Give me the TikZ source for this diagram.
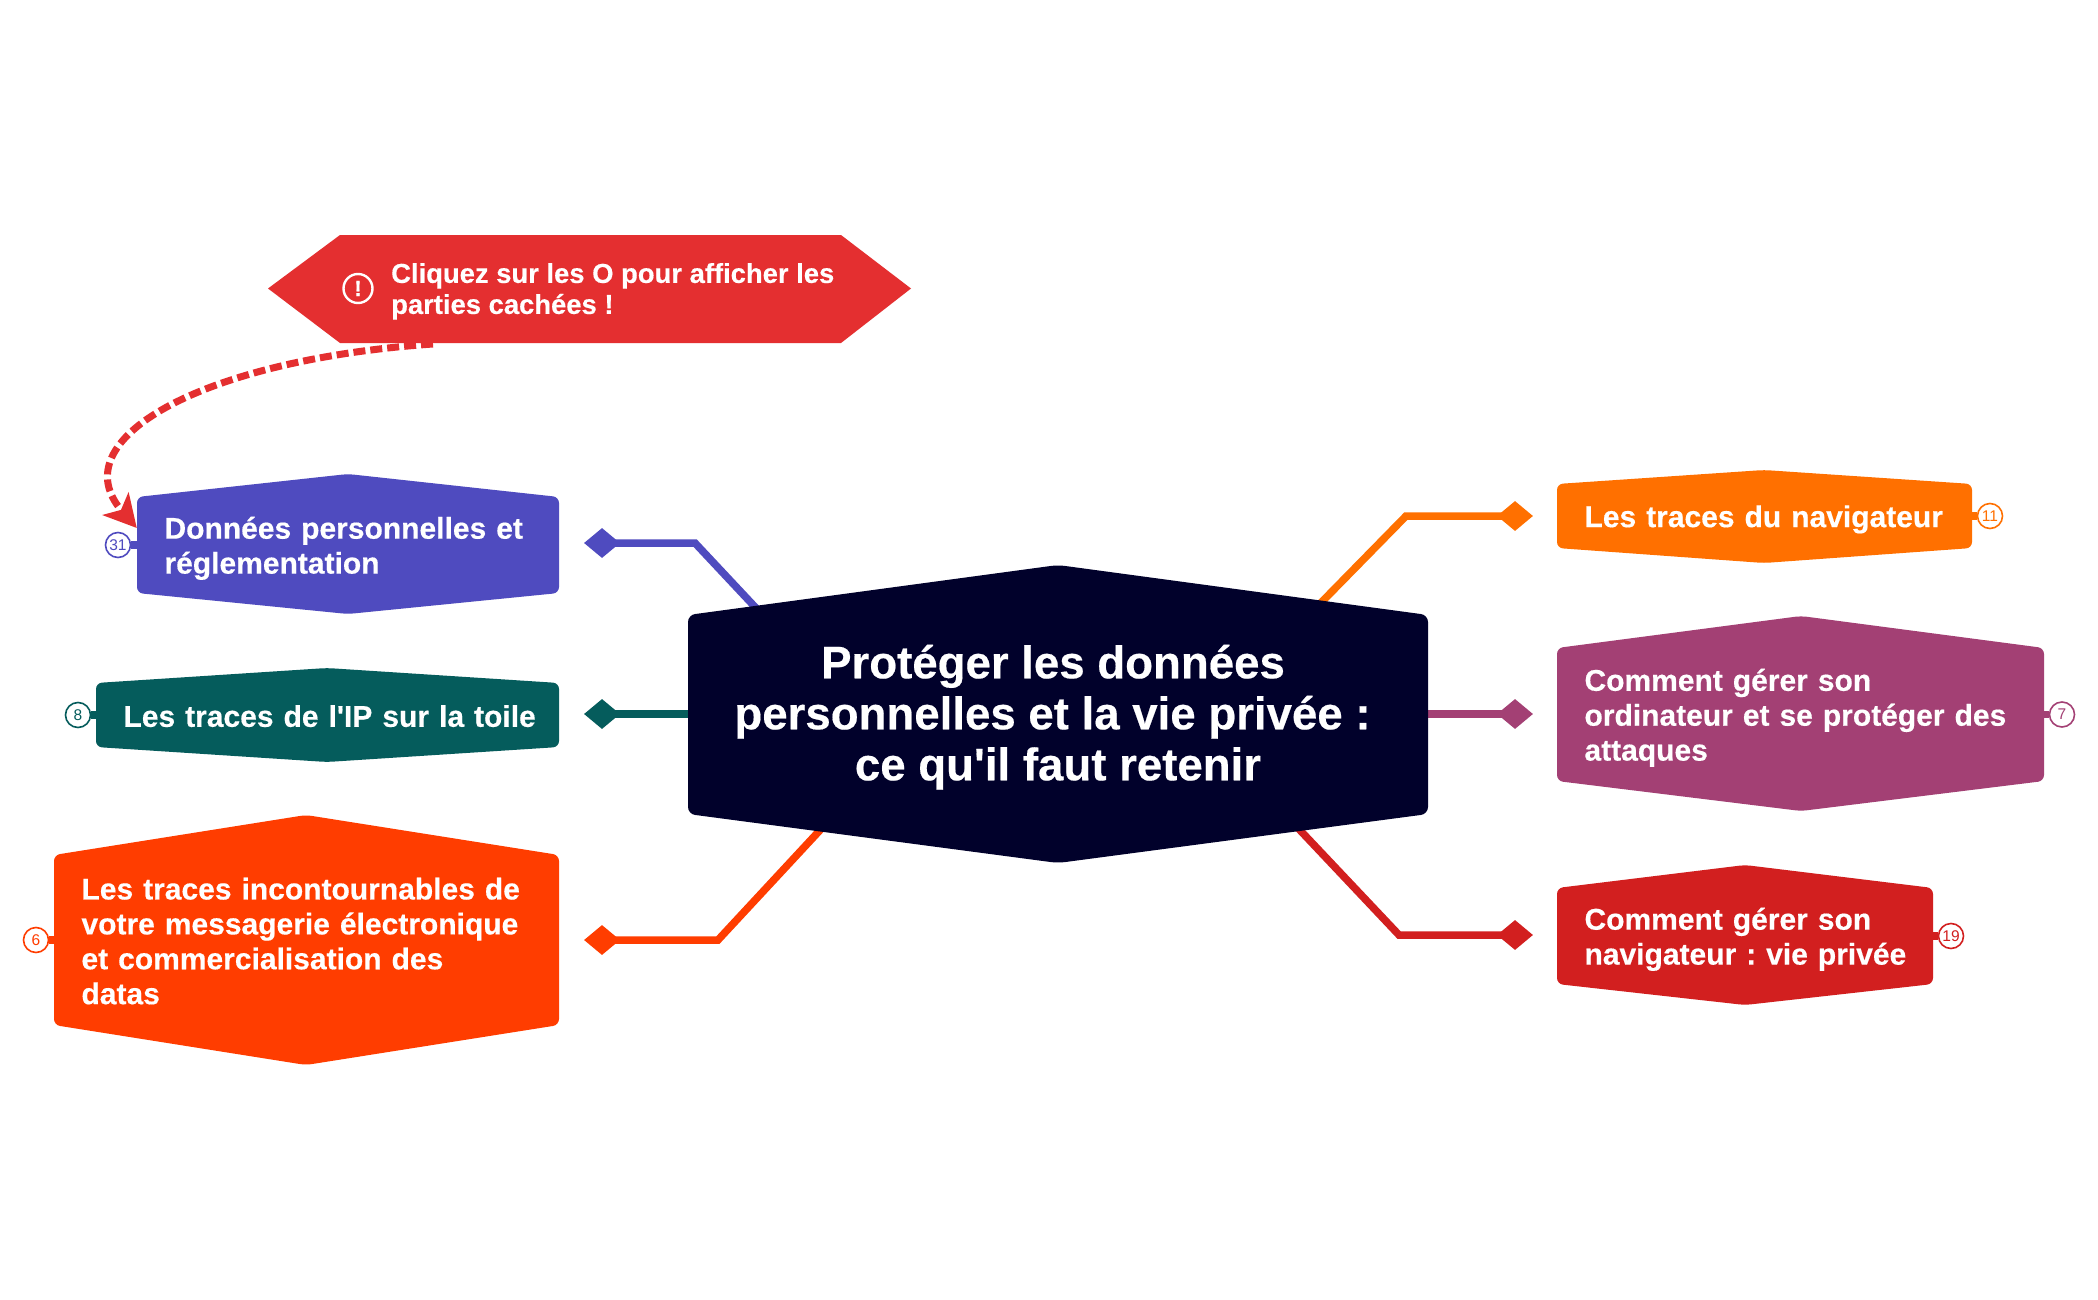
\documentclass[tikz,border=0pt]{standalone}
\usepackage{fontspec}
\setmainfont{Liberation Sans}[Ligatures=TeXOff,BoldFeatures={FakeBold=0.4}]
\usetikzlibrary{shapes.geometric,arrows.meta,calc}
\pgfdeclarelayer{back}
\pgfsetlayers{back,main}
\definecolor{cblue}{HTML}{4F4BBF}
\definecolor{cteal}{HTML}{055C5C}
\definecolor{cflame}{HTML}{FF3D00}
\definecolor{corange}{HTML}{FF7000}
\definecolor{cplum}{HTML}{A34074}
\definecolor{cred}{HTML}{D21F1F}
\definecolor{chub}{HTML}{01012B}
\definecolor{ccall}{HTML}{E42F30}
\newcommand{\upstrut}[1]{\vrule height #1pt depth 0pt width 0pt\relax}
\newcommand{\downstrut}[1]{\vrule height 0pt depth #1pt width 0pt\relax}
\tikzset{
  boxtext/.style={text=white,inner sep=0pt,font=\fontsize{30}{34.9}\selectfont\bfseries\frenchspacing},
  dia/.style={diamond,draw=none,fill=#1,inner sep=0pt,aspect=1.2,minimum width=36pt,minimum height=30pt},
  link/.style={draw=#1,line width=7.5pt,miter limit=10},
  badge/.style={circle,draw=#1,line width=1.6pt,fill=white,text=#1,inner sep=0pt,minimum size=25pt,
     font=\fontsize{15.5}{16}\selectfont},
}
% name, colour, x1, x2, apex x, top, shoulder top, shoulder bottom, bottom
\newcommand{\hexbox}[9]{%
  \fill[#2,rounded corners=6pt] (#3,#7) -- (#5,#6) -- (#4,#7) -- (#4,#8) -- (#5,#9) -- (#3,#8) -- cycle;
  \pgfmathsetmacro\hw{#4-#3}%
  \pgfmathsetmacro\hh{#8-#7}%
  \node[boxtext,minimum height=\hh pt,text width=\hw pt,
        execute at begin node={\leftskip=27.5pt\rightskip=0pt plus 1fill\parindent=0pt}]
     (#1) at ({(#3+#4)/2},{(#7+#8)/2})
}
\begin{document}
\begin{tikzpicture}[x=1pt,y=-1pt]
\useasboundingbox (0,0) rectangle (2098,1300);
\begin{pgfonlayer}{back}
\fill[white] (0,0) rectangle (2098,1300);
\end{pgfonlayer}

% central node
\fill[chub,rounded corners=7pt] (688,615) -- (1058,565) -- (1428,615) -- (1428,814) -- (1058,863) -- (688,814) -- cycle;
\node[text=white,inner sep=0pt,align=center,minimum width=740pt,minimum height=199pt,
      font=\fontsize{45.6}{51}\selectfont\bfseries\frenchspacing] (hub) at (1058,714)
  {\upstrut{40}Protéger les données\rule{10pt}{0pt}\\personnelles et la vie privée :\rule{11pt}{0pt}\\ce qu'il faut retenir\downstrut{8}};

% topics
\hexbox{blue}{cblue}{137}{559}{348}{474}{497}{593}{614}
  {\upstrut{28.6}Données personnelles et\\réglementation\downstrut{5}};
\hexbox{teal}{cteal}{96}{559}{327}{668}{683}{747}{762}
  {\upstrut{28.6}Les traces de l'IP sur la toile\downstrut{5}};
\hexbox{flame}{cflame}{54}{559}{306}{815}{855}{1025}{1065}
  {\upstrut{28.6}Les traces incontournables de\\votre messagerie électronique\\et commercialisation des\\datas\downstrut{5}};
\hexbox{orange}{corange}{1557}{1972}{1764}{470}{484}{548}{563}
  {\upstrut{28.6}Les traces du navigateur\downstrut{5}};
\hexbox{plum}{cplum}{1557}{2044}{1801}{616}{648}{781}{811}
  {\upstrut{28.6}Comment gérer son\\ordinateur et se protéger des\\attaques\downstrut{5}};
\hexbox{red}{cred}{1557}{1933}{1745}{865}{888}{984}{1005}
  {\upstrut{28.6}Comment gérer son\\navigateur : vie privée\downstrut{5}};

% callout
\fill[ccall] (268,288.5) -- (340,235) -- (841,235) -- (911,288.5) -- (841,343) -- (340,343) -- cycle;
\node[boxtext,font=\fontsize{27.4}{31}\selectfont\bfseries\frenchspacing,anchor=west,align=left] (calltext) at (391,288)
  {\upstrut{26.5}Cliquez sur les O pour afficher les\\parties cachées !\downstrut{4.8}};
\node[circle,draw=white,line width=2.4pt,text=white,inner sep=0pt,minimum size=29pt,
      font=\fontsize{22}{22}\selectfont\bfseries] (callicon) at (358,288.5) {!};
\coordinate (callfoot) at (433,344);

% end diamonds
\node[dia=cblue] (dblue) at (602,543) {};
\node[dia=cteal] (dteal) at (602,714) {};
\node[dia=cflame] (dflame) at (602,940) {};
\node[dia=corange] (dorange) at (1515,516) {};
\node[dia=cplum] (dplum) at (1515,714) {};
\node[dia=cred] (dred) at (1515,935) {};

% badges
\node[badge=cblue] (bblue) at (118,545) {31};
\node[badge=cteal] (bteal) at (78,715) {8};
\node[badge=cflame] (bflame) at (36,940) {6};
\node[badge=corange] (borange) at (1990,516) {11};
\node[badge=cplum] (bplum) at (2062,714.5) {7};
\node[badge=cred] (bred) at (1951,936) {19};

% connectors
\coordinate (hubblue) at (770,623);
\coordinate (hubflame) at (835,814);
\coordinate (huborange) at (1306,618);
\coordinate (hubred) at (1280,809);
\begin{pgfonlayer}{back}
\draw[link=cblue] (dblue.center) -- (695,543) -- (hubblue);
\draw[link=cteal] (dteal.center) -- (hub.west);
\draw[link=cflame] (dflame.center) -- (718,940) -- (hubflame);
\draw[link=corange] (dorange.center) -- (1406,516) -- (huborange);
\draw[link=cplum] (dplum.center) -- (hub.east);
\draw[link=cred] (dred.center) -- (1399,935) -- (hubred);
\draw[link=cblue] (bblue) -- (blue.west);
\draw[link=cteal] (bteal) -- (teal.west);
\draw[link=cflame] (bflame) -- (flame.west);
\draw[link=corange] (borange) -- (orange.east);
\draw[link=cplum] (bplum) -- (plum.east);
\draw[link=cred] (bred) -- (red.east);
\end{pgfonlayer}

% dashed arrow
\draw[ccall,line width=7pt,dash pattern=on 12pt off 5pt,
      -{Stealth[length=32pt,width=34pt,inset=8pt]}]
  (callfoot) .. controls (200,360) and (60,440) .. ($(blue.west)+(0,-17)$);
\end{tikzpicture}
\end{document}
